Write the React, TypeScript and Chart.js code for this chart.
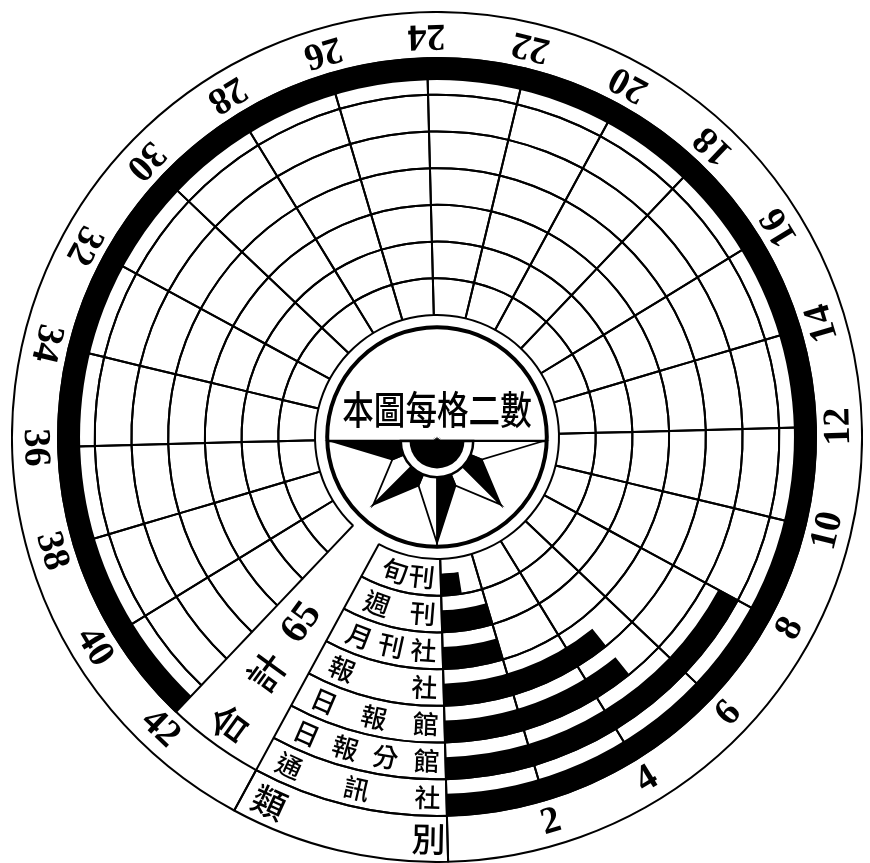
import React, { useEffect, useRef } from 'react';
import { Chart, registerables } from 'chart.js';

Chart.register(...registerables);

// ---------------- data ----------------
const categories = ['旬刊', '週刊', '月刊社', '報社', '日報館', '日報分館', '通訊社'];
const counts = [1, 2, 2, 5, 5, 8, 42];
const tickLabels = [2, 4, 6, 8, 10, 12, 14, 16, 18, 20, 22, 24, 26, 28, 30, 32, 34, 36, 38, 40, 42];
const headerLabel = '類別';
const totalLabel = '合計';
const noteText = '本圖每格二數';
const unitsPerCell = 2;
const unitsPerTurn = 48;
const tableUnits = 4;
const totalUnits = 2;

// ---------------- layout / style ----------------
const SIZE = 852;
const LEFT = 11;
const TOP = 11;
const CUTOUT = 122;
const LABEL_RING = 46;
const ROW = 257 / 7;
const BAR_FRAC = 0.6;
const ZERO_ROT = 178.5;
const LINE = 2;
const INK = '#000';
const NONE = 'rgba(0,0,0,0)';
const CJK = '"Noto Sans CJK TC", "Noto Sans CJK SC", sans-serif';
const NUM = '"Liberation Serif", "DejaVu Serif", serif';

const rowsOuterFirst = categories.map((c, i) => ({ c, v: counts[i] })).reverse();
const cellCount = (unitsPerTurn - tableUnits - totalUnits) / unitsPerCell;
const rowSegments = [tableUnits, totalUnits, ...Array.from({ length: cellCount }, () => unitsPerCell)];
const rowBorders = rowSegments.map((_, i) => (i === 1 ? 0 : LINE));

const commonOptions: any = {
  responsive: false,
  animation: false,
  devicePixelRatio: 1,
  events: [],
  rotation: ZERO_ROT,
  circumference: 360,
  cutout: CUTOUT,
  layout: { padding: 0 },
  plugins: { legend: { display: false }, tooltip: { enabled: false } },
};

function drawChars(ctx: CanvasRenderingContext2D, text: string, x: number, y: number, rot: number) {
  ctx.save();
  ctx.translate(x, y);
  ctx.rotate(rot);
  ctx.fillText(text, 0, 0);
  ctx.restore();
}

const annotPlugin = {
  id: 'annot',
  afterDraw(chart: any) {
    const ctx: CanvasRenderingContext2D = chart.ctx;
    const ring = chart.getDatasetMeta(0).data[0];
    const cx = ring.x;
    const cy = ring.y;
    const outerR = ring.outerRadius;
    const ringIn = ring.innerRadius;
    const zero = chart.getDatasetMeta(1).data[1].endAngle;
    const step = (Math.PI * 2) / unitsPerTurn;
    const ang = (v: number) => zero - v * step;
    const n = categories.length;

    ctx.save();
    ctx.fillStyle = INK;
    ctx.strokeStyle = INK;
    ctx.textAlign = 'center';
    ctx.textBaseline = 'middle';

    // value labels on the outer ring
    const rl = (outerR + ringIn) / 2;
    ctx.font = `bold 38px ${NUM}`;
    tickLabels.forEach((v) => {
      const a = ang(v);
      drawChars(ctx, String(v), cx + rl * Math.cos(a), cy + rl * Math.sin(a), a - Math.PI / 2);
    });

    // category table
    const placeRow = (label: string, mid: number, size: number) => {
      const chars = Array.from(label);
      const first = zero + tableUnits * step - 27 / mid;
      const last = zero + 19 / mid;
      ctx.font = `500 ${size}px ${CJK}`;
      chars.forEach((ch, j) => {
        const a = chars.length === 1 ? last : first + ((last - first) * j) / (chars.length - 1);
        drawChars(ctx, ch, cx + mid * Math.cos(a), cy + mid * Math.sin(a), a - Math.PI / 2);
      });
    };
    categories.forEach((c, i) => {
      const k = n - 1 - i;
      const bar = chart.getDatasetMeta(1 + 2 * k).data[0];
      const gap = chart.getDatasetMeta(2 + 2 * k).data[0];
      placeRow(c, (bar.outerRadius + gap.innerRadius) / 2, 26);
    });
    placeRow(headerLabel, rl, 34);

    // total wedge
    const aT = zero + (tableUnits + totalUnits / 2) * step;
    const rIn = chart.getDatasetMeta(2 * n).data[0].innerRadius;
    const rAt = (f: number) => rIn + f * (ringIn - rIn);
    const tChars = Array.from(totalLabel);
    ctx.font = `500 38px ${CJK}`;
    [0.905, 0.654].forEach((f, j) => {
      const r = rAt(f);
      drawChars(ctx, tChars[j], cx + r * Math.cos(aT), cy + r * Math.sin(aT), aT - Math.PI);
    });
    const total = counts.reduce((s, v) => s + v, 0);
    ctx.font = `bold 40px ${NUM}`;
    const r65 = rAt(0.42);
    drawChars(ctx, String(total), cx + r65 * Math.cos(aT), cy + r65 * Math.sin(aT), aT - Math.PI);

    // medallion
    const rm = CUTOUT * 0.9;
    ctx.lineWidth = 4;
    ctx.beginPath();
    ctx.arc(cx, cy, rm, 0, Math.PI * 2);
    ctx.stroke();

    ctx.save();
    ctx.translate(cx, cy - 27);
    ctx.scale(0.93, 1.12);
    ctx.font = `500 34px ${CJK}`;
    ctx.fillText(noteText, 0, 0);
    ctx.restore();

    const dy = cy + 4;
    const hx = Math.sqrt(rm * rm - 16);
    ctx.lineWidth = 2.5;
    ctx.beginPath();
    ctx.moveTo(cx - hx, dy);
    ctx.lineTo(cx + hx, dy);
    ctx.stroke();

    const rays = [0, 45, 90, 135, 180];
    const tips = [0.97, 0.82, 0.93, 0.82, 0.97];
    const side = 0.44 * rm;
    ctx.lineWidth = 1.8;
    ctx.lineJoin = 'miter';
    rays.forEach((deg, idx) => {
      const a = (deg * Math.PI) / 180;
      const tl = tips[idx] * rm;
      const tip = [cx + tl * Math.cos(a), dy + tl * Math.sin(a)];
      [-1, 1].forEach((s) => {
        const sd = deg + s * 22.5;
        if (sd < 0 || sd > 180) return;
        const sa = (sd * Math.PI) / 180;
        ctx.beginPath();
        ctx.moveTo(cx, dy);
        ctx.lineTo(tip[0], tip[1]);
        ctx.lineTo(cx + side * Math.cos(sa), dy + side * Math.sin(sa));
        ctx.closePath();
        ctx.fillStyle = s < 0 ? INK : '#fff';
        ctx.fill();
        ctx.stroke();
      });
    });
    ctx.fillStyle = '#fff';
    ctx.lineWidth = 2.5;
    ctx.beginPath();
    ctx.arc(cx, dy, 0.33 * rm, 0, Math.PI);
    ctx.closePath();
    ctx.fill();
    ctx.stroke();
    ctx.fillStyle = INK;
    ctx.beginPath();
    ctx.arc(cx, dy, 0.25 * rm, 0, Math.PI);
    ctx.closePath();
    ctx.fill();

    ctx.restore();
  },
};

export default function App() {
  const gridRef = useRef<HTMLCanvasElement>(null);
  const barRef = useRef<HTMLCanvasElement>(null);

  useEffect(() => {
    const grid = new Chart(gridRef.current as HTMLCanvasElement, {
      type: 'doughnut',
      data: {
        datasets: [
          {
            data: [tableUnits, unitsPerTurn - tableUnits],
            backgroundColor: NONE,
            borderColor: INK,
            borderWidth: LINE,
            hoverBorderWidth: LINE,
            offset: 0,
            hoverOffset: 0,
            weight: LABEL_RING,
          },
          ...rowsOuterFirst.map((r) => ({
            label: r.c,
            data: rowSegments,
            backgroundColor: NONE,
            borderColor: INK,
            borderWidth: rowBorders,
            hoverBorderWidth: rowBorders,
            offset: 0,
            hoverOffset: 0,
            weight: ROW,
          })),
        ],
      } as any,
      options: commonOptions,
    });

    const bars = new Chart(barRef.current as HTMLCanvasElement, {
      type: 'doughnut',
      data: {
        datasets: [
          {
            data: [unitsPerTurn],
            backgroundColor: NONE,
            borderColor: NONE,
            borderWidth: LINE,
            hoverBorderWidth: LINE,
            offset: 0,
            hoverOffset: 0,
            weight: LABEL_RING,
          },
          ...rowsOuterFirst.flatMap((r) => [
            {
              label: r.c,
              data: [unitsPerTurn - r.v, r.v],
              backgroundColor: [NONE, INK],
              borderWidth: 0,
              hoverBorderWidth: 0,
              offset: 0,
              hoverOffset: 0,
              weight: ROW * BAR_FRAC,
            },
            {
              data: [unitsPerTurn],
              backgroundColor: NONE,
              borderWidth: 0,
              hoverBorderWidth: 0,
              offset: 0,
              hoverOffset: 0,
              weight: ROW * (1 - BAR_FRAC),
            },
          ]),
        ],
      } as any,
      options: commonOptions,
      plugins: [annotPlugin],
    });

    return () => {
      grid.destroy();
      bars.destroy();
    };
  }, []);

  const cs: React.CSSProperties = { position: 'absolute', left: LEFT, top: TOP, width: SIZE, height: SIZE };
  return (
    <div style={{ position: 'fixed', left: 0, top: 0, width: 870, height: 863, background: '#fff', overflow: 'hidden' }}>
      <canvas ref={gridRef} width={SIZE} height={SIZE} style={cs} />
      <canvas ref={barRef} width={SIZE} height={SIZE} style={cs} />
    </div>
  );
}
